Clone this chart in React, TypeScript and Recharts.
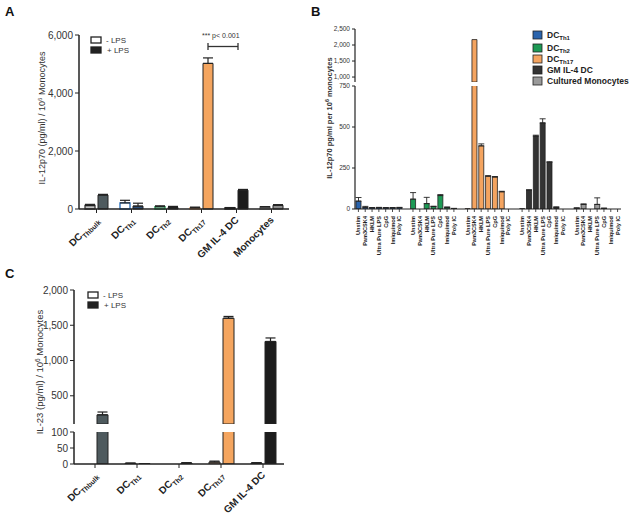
import React from 'react';
import { BarChart, Bar, XAxis, YAxis, Cell, ErrorBar } from 'recharts';

const FONT = '"Liberation Sans", Arial, Helvetica, sans-serif';
const INK = '#222';

// ---- Panel A: IL-12p70, -LPS / +LPS ----
const aCategories = ['DC_Thbulk', 'DC_Th1', 'DC_Th2', 'DC_Th17', 'GM IL-4 DC', 'Monocytes'];
const aMinusLps = [120, 210, 80, 45, 40, 70];
const aMinusErr = [40, 90, 30, 20, 10, 10];
const aPlusLps = [480, 100, 50, 5020, 650, 130];
const aPlusErr = [25, 100, 40, 190, 25, 20];
const aTicks = [0, 2000, 4000, 6000];

// ---- Panel B: IL-12p70 per TLR stimulus ----
const bStimuli = ['Unstim', 'Pam3CSK4', 'HKLM', 'Ultra Pure LPS', 'CpG', 'Imiquimod', 'Poly IC'];
const bGroups = ['DC_Th1', 'DC_Th2', 'DC_Th17', 'GM IL-4 DC', 'Cultured Monocytes'];
const bTh1 = [48, 10, 7, 8, 7, 7, 8];
const bTh1Err = [22, 6, 2, 2, 2, 2, 2];
const bTh2 = [60, 0, 33, 15, 82, 10, 3];
const bTh2Err = [40, 0, 38, 2, 6, 2, 1];
const bTh17 = [2, 2170, 385, 200, 195, 105, 0];
const bTh17Err = [0, 0, 12, 3, 3, 3, 0];
const bGm = [2, 115, 445, 525, 285, 10, 0];
const bGmErr = [0, 2, 5, 25, 3, 3, 0];
const bMono = [5, 28, 0, 28, 4, 0, 0];
const bMonoErr = [2, 3, 0, 40, 1, 0, 0];
const bLowTicks = [0, 250, 500, 750];
const bHighTicks = [1000, 1500, 2000, 2500];

// ---- Panel C: IL-23, -LPS / +LPS ----
const cCategories = ['DC_Thbulk', 'DC_Th1', 'DC_Th2', 'DC_Th17', 'GM IL-4 DC'];
const cMinusLps = [0, 2, 0, 6, 3];
const cMinusErr = [0, 1, 0, 3, 1];
const cPlusLps = [230, 1, 3, 1600, 1270];
const cPlusErr = [40, 0, 1, 25, 50];
const cLowTicks = [0, 50, 100];
const cHighTicks = [500, 1000, 1500, 2000];

// colours
const aMinusFill = ['#c4c4c4', '#ffffff', '#e6f4ea', '#f9d2ad', '#2a2a2a', '#d2d2d2'];
const aMinusStroke = ['#444', '#2f74c0', '#1f9a55', '#e8a46a', '#111', '#888'];
const aPlusFill = ['#4e5a5e', '#2b4f7a', '#3a3d3b', '#f4a55f', '#1c1c1c', '#8d8d8d'];
const cMinusFill = ['#c4c4c4', '#6a6fa8', '#e6f4ea', '#f9c9a0', '#444'];
const cPlusFill = ['#4e5a5e', '#333', '#333', '#f4a55f', '#1c1c1c'];
const bColors = ['#2a64ad', '#1d9a55', '#f4a460', '#333333', '#9a9a9a'];

const errPair = (e: number) => (e > 0 ? [0, e] : undefined);

const aData = aCategories.map((name, i) => ({
  name,
  minus: aMinusLps[i],
  minusErr: errPair(aMinusErr[i]),
  plus: aPlusLps[i],
  plusErr: errPair(aPlusErr[i]),
}));

const B_BREAK = 750;
const bSeries = [bTh1, bTh2, bTh17, bGm, bMono];
const bErrors = [bTh1Err, bTh2Err, bTh17Err, bGmErr, bMonoErr];
const bData: any[] = [];
bGroups.forEach((g, gi) => {
  if (gi > 0) bData.push({ key: `gap${gi}`, stim: '', group: -1, value: null, high: null });
  bStimuli.forEach((s, si) => {
    const v = bSeries[gi][si];
    bData.push({
      key: `${gi}-${s}`,
      stim: s,
      group: gi,
      value: v,
      high: v > B_BREAK ? v : null,
      err: v <= B_BREAK ? errPair(bErrors[gi][si]) : undefined,
    });
  });
});

const C_BREAK = 100;
const cData = cCategories.map((name, i) => ({
  name,
  minus: cMinusLps[i],
  plus: cPlusLps[i],
  minusHigh: cMinusLps[i] > C_BREAK ? cMinusLps[i] : null,
  plusHigh: cPlusLps[i] > C_BREAK ? cPlusLps[i] : null,
  minusErr: cMinusLps[i] <= C_BREAK ? errPair(cMinusErr[i]) : undefined,
  plusErr: cPlusLps[i] <= C_BREAK ? errPair(cPlusErr[i]) : undefined,
  plusHighErr: cPlusLps[i] > C_BREAK ? errPair(cPlusErr[i]) : undefined,
}));

const fmt = (v: number) => v.toLocaleString('en-US');

const splitLabel = (s: string) => {
  const i = s.indexOf('_');
  return i < 0 ? [s, ''] : [s.slice(0, i), s.slice(i + 1)];
};

const AngledTick = (props: any) => {
  const { x, y, payload } = props;
  const [main, sub] = splitLabel(String(payload.value));
  return (
    <g transform={`translate(${x},${y}) rotate(-45)`}>
      <text x={-2} y={6} textAnchor="end" fontFamily={FONT} fontSize={10} fontWeight="bold" fill={INK}>
        {main}
        {sub && (
          <tspan fontSize={7} dy={3}>
            {sub}
          </tspan>
        )}
      </text>
    </g>
  );
};

const VerticalTick = (props: any) => {
  const { x, y, payload } = props;
  const row = bData.find((d) => d.key === payload.value);
  if (!row || !row.stim) return <g />;
  return (
    <g transform={`translate(${x},${y})`}>
      <line x1={0} y1={-4} x2={0} y2={-1} stroke={INK} strokeWidth={0.8} />
      <g transform="rotate(-90)">
        <text x={-3} y={2} textAnchor="end" fontFamily={FONT} fontSize={5.6} fontWeight="bold" fill={INK}>
          {row.stim}
        </text>
      </g>
    </g>
  );
};

const yTickA = { fontSize: 10, fill: '#333', fontFamily: FONT };
const yTickB = { fontSize: 6.5, fill: '#333', fontFamily: FONT };
const axisLine = { stroke: INK, strokeWidth: 1.5 };

function PanelA() {
  return (
    <div style={{ position: 'absolute', left: 0, top: 0 }}>
      <BarChart width={300} height={280} data={aData} margin={{ top: 35, right: 11, bottom: 0, left: 39 }} barSize={10} barGap={3}>
        <XAxis dataKey="name" height={71} interval={0} tick={<AngledTick />} axisLine={axisLine} tickLine={{ stroke: INK }} tickSize={4} />
        <YAxis width={40} domain={[0, 6000]} ticks={aTicks} interval={0} tickFormatter={fmt} tick={yTickA} axisLine={axisLine} tickLine={{ stroke: INK }} tickSize={4} />
        <Bar dataKey="minus" isAnimationActive={false} strokeWidth={1.4}>
          {aData.map((d, i) => (
            <Cell key={`am-${i}`} fill={aMinusFill[i]} stroke={aMinusStroke[i]} />
          ))}
          <ErrorBar dataKey="minusErr" direction="y" width={5} stroke={INK} strokeWidth={1.2} />
        </Bar>
        <Bar dataKey="plus" isAnimationActive={false} stroke={INK} strokeWidth={1}>
          {aData.map((d, i) => (
            <Cell key={`ap-${i}`} fill={aPlusFill[i]} />
          ))}
          <ErrorBar dataKey="plusErr" direction="y" width={5} stroke={INK} strokeWidth={1.2} />
        </Bar>
      </BarChart>
    </div>
  );
}

function PanelB() {
  return (
    <>
      <div style={{ position: 'absolute', left: 300, top: 0 }}>
        <BarChart width={329} height={82} data={bData} margin={{ top: 29, right: 8, bottom: 0, left: 25 }} barSize={5}>
          <XAxis dataKey="key" hide interval={0} />
          <YAxis width={30} domain={[845, 2500]} allowDataOverflow ticks={bHighTicks} interval={0} tickFormatter={fmt} tick={yTickB} axisLine={{ stroke: INK, strokeWidth: 1.2 }} tickLine={{ stroke: INK }} tickSize={3} />
          <Bar dataKey="high" isAnimationActive={false} stroke={INK} strokeWidth={0.8}>
            {bData.map((d, i) => (
              <Cell key={`bh-${i}`} fill={d.group >= 0 ? bColors[d.group] : 'none'} />
            ))}
          </Bar>
        </BarChart>
      </div>
      <div style={{ position: 'absolute', left: 300, top: 80 }}>
        <BarChart width={329} height={190} data={bData} margin={{ top: 6, right: 8, bottom: 0, left: 25 }} barSize={5}>
          <XAxis dataKey="key" height={61} interval={0} tick={<VerticalTick />} axisLine={{ stroke: INK, strokeWidth: 1.2 }} tickLine={false} tickSize={3} tickMargin={1} />
          <YAxis width={30} domain={[0, 750]} allowDataOverflow ticks={bLowTicks} interval={0} tickFormatter={fmt} tick={yTickB} axisLine={{ stroke: INK, strokeWidth: 1.2 }} tickLine={{ stroke: INK }} tickSize={3} />
          <Bar dataKey="value" isAnimationActive={false} stroke={INK} strokeWidth={0.8}>
            {bData.map((d, i) => (
              <Cell key={`bl-${i}`} fill={d.group >= 0 ? bColors[d.group] : 'none'} />
            ))}
            <ErrorBar dataKey="err" direction="y" width={3} stroke={INK} strokeWidth={0.9} />
          </Bar>
        </BarChart>
      </div>
    </>
  );
}

function PanelC() {
  return (
    <>
      <div style={{ position: 'absolute', left: 0, top: 270 }}>
        <BarChart width={300} height={154} data={cData} margin={{ top: 20, right: 16, bottom: 0, left: 34 }} barSize={11} barGap={3}>
          <XAxis dataKey="name" hide interval={0} />
          <YAxis width={40} domain={[100, 2000]} allowDataOverflow ticks={cHighTicks} interval={0} tickFormatter={fmt} tick={yTickA} axisLine={axisLine} tickLine={{ stroke: INK }} tickSize={4} />
          <Bar dataKey="minusHigh" isAnimationActive={false} stroke={INK} strokeWidth={1}>
            {cData.map((d, i) => (
              <Cell key={`cmh-${i}`} fill={cMinusFill[i]} />
            ))}
          </Bar>
          <Bar dataKey="plusHigh" isAnimationActive={false} stroke={INK} strokeWidth={1}>
            {cData.map((d, i) => (
              <Cell key={`cph-${i}`} fill={cPlusFill[i]} />
            ))}
            <ErrorBar dataKey="plusHighErr" direction="y" width={5} stroke={INK} strokeWidth={1.2} />
          </Bar>
        </BarChart>
      </div>
      <div style={{ position: 'absolute', left: 0, top: 424 }}>
        <BarChart width={300} height={90} data={cData} margin={{ top: 8, right: 16, bottom: 0, left: 34 }} barSize={11} barGap={3}>
          <XAxis dataKey="name" height={50} interval={0} tick={<AngledTick />} axisLine={axisLine} tickLine={{ stroke: INK }} tickSize={4} />
          <YAxis width={40} domain={[0, 100]} allowDataOverflow ticks={cLowTicks} interval={0} tick={yTickA} axisLine={axisLine} tickLine={{ stroke: INK }} tickSize={4} />
          <Bar dataKey="minus" isAnimationActive={false} stroke={INK} strokeWidth={1}>
            {cData.map((d, i) => (
              <Cell key={`cm-${i}`} fill={cMinusFill[i]} />
            ))}
            <ErrorBar dataKey="minusErr" direction="y" width={5} stroke={INK} strokeWidth={1.2} />
          </Bar>
          <Bar dataKey="plus" isAnimationActive={false} stroke={INK} strokeWidth={1}>
            {cData.map((d, i) => (
              <Cell key={`cp-${i}`} fill={cPlusFill[i]} />
            ))}
            <ErrorBar dataKey="plusErr" direction="y" width={5} stroke={INK} strokeWidth={1.2} />
          </Bar>
        </BarChart>
      </div>
    </>
  );
}

const LpsLegend = ({ x, y }: { x: number; y: number }) => (
  <g fontFamily={FONT} fontSize={8} fill="#333">
    <rect x={x} y={y} width={10} height={6} fill="#fff" stroke={INK} strokeWidth={1.3} />
    <rect x={x} y={y + 10} width={10} height={6} fill={INK} stroke={INK} strokeWidth={1.3} />
    <text x={x + 15} y={y + 6}>- LPS</text>
    <text x={x + 16} y={y + 16}>+ LPS</text>
  </g>
);

function Overlay() {
  const bRows = [38, 51, 62, 73, 84];
  return (
    <svg width={629} height={515} style={{ position: 'absolute', left: 0, top: 0, pointerEvents: 'none' }}>
      <g fontFamily={FONT} fontWeight="bold" fontSize={13} fill="#111">
        <text x={5} y={16}>A</text>
        <text x={311} y={16}>B</text>
        <text x={5} y={278}>C</text>
      </g>

      {/* axis titles */}
      <text x={45} y={118} transform="rotate(-90 45 118)" textAnchor="middle" fontFamily={FONT} fontSize={9} fill="#333">
        IL-12p70 (pg/ml) / 10<tspan fontSize={6} dy={-3}>6</tspan>
        <tspan dy={3}> Monocytes</tspan>
      </text>
      <text x={332} y={118} transform="rotate(-90 332 118)" textAnchor="middle" fontFamily={FONT} fontSize={7.5} fontWeight="bold" fill="#333">
        IL-12p70 pg/ml per 10<tspan fontSize={5.5} dy={-3}>6</tspan>
        <tspan dy={3}> monocytes</tspan>
      </text>
      <text x={43} y={372} transform="rotate(-90 43 372)" textAnchor="middle" fontFamily={FONT} fontSize={9.5} fill="#333">
        IL-23 (pg/ml) / 10<tspan fontSize={6.5} dy={-3}>6</tspan>
        <tspan dy={3}> Monocytes</tspan>
      </text>

      {/* legends */}
      <LpsLegend x={91} y={37} />
      <LpsLegend x={88} y={292} />
      <g fontFamily={FONT} fontSize={8.5} fontWeight="bold" fill="#222">
        {bGroups.map((g, i) => {
          const [main, sub] = splitLabel(g);
          return (
            <g key={g}>
              <rect x={533} y={bRows[i] - 7} width={9} height={8} fill={bColors[i]} stroke={INK} strokeWidth={0.8} />
              <text x={547} y={bRows[i]}>
                {main}
                {sub && (
                  <tspan fontSize={6} dy={2}>
                    {sub}
                  </tspan>
                )}
              </text>
            </g>
          );
        })}
      </g>

      {/* significance bracket */}
      <text x={202} y={38} fontFamily={FONT} fontSize={7} fill="#333">*** p&lt; 0.001</text>
      <g stroke="#333" strokeWidth={1.3}>
        <line x1={208} y1={46.5} x2={238} y2={46.5} />
        <line x1={208} y1={43} x2={208} y2={50} />
        <line x1={238} y1={43} x2={238} y2={50} />
      </g>
    </svg>
  );
}

export default function App() {
  return (
    <div style={{ position: 'absolute', left: 0, top: 0, width: 629, height: 515, background: '#fff', overflow: 'hidden', fontFamily: FONT }}>
      <PanelA />
      <PanelB />
      <PanelC />
      <Overlay />
    </div>
  );
}
